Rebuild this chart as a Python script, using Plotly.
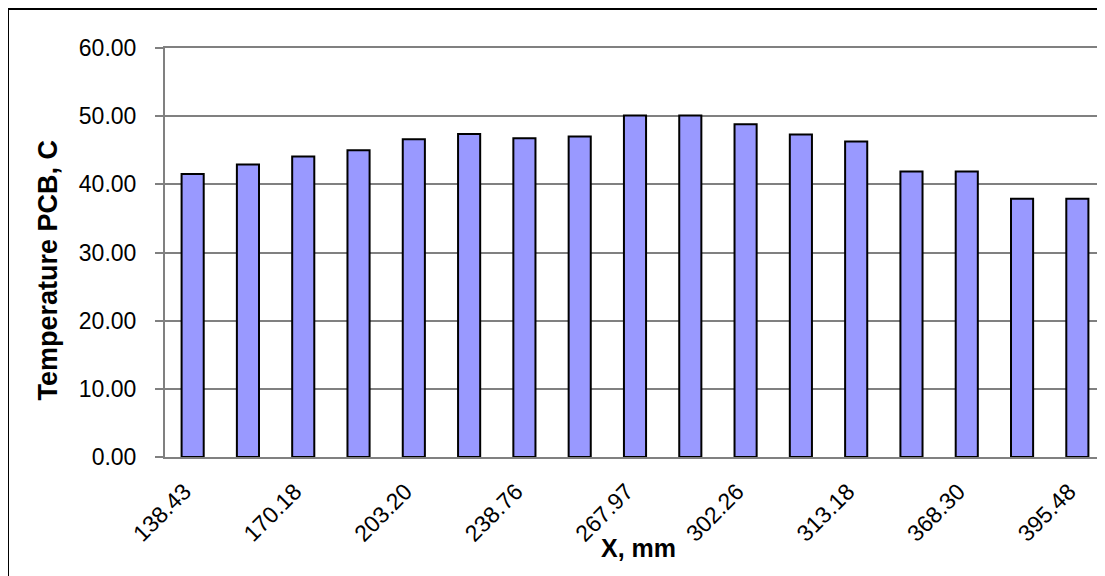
import plotly.graph_objects as go

tick_labels = ["138.43", "170.18", "203.20", "238.76", "267.97", "302.26", "313.18", "368.30", "395.48"]
temperatures = [41.5, 42.9, 44.1, 45.0, 46.6, 47.4, 46.75, 47.0, 50.1, 50.1, 48.8, 47.3, 46.3, 41.9, 41.9, 37.9, 37.9]

positions = list(range(len(temperatures)))
# label every second category; nudge labels so the rotated text ends at the bar centre
tick_positions = [p - 0.15 for p in positions[::2]]

fig = go.Figure()
fig.add_trace(go.Bar(
    x=positions, y=temperatures,
    marker=dict(color="#9999FF", line=dict(color="#000000", width=2)),
    width=0.4,
))

fig.update_layout(
    width=1105, height=576,
    margin=dict(l=157, r=8, t=40, b=127),
    paper_bgcolor="white", plot_bgcolor="white",
    showlegend=False,
    font=dict(family="Liberation Sans, Arial, sans-serif", color="#000000"),
    xaxis=dict(
        tickmode="array", tickvals=tick_positions, ticktext=tick_labels,
        tickangle=-45, tickfont=dict(size=23),
        range=[-0.5, len(temperatures) - 0.5],
        showline=True, linecolor="#808080", linewidth=2, mirror=True,
        showgrid=False, ticks="", zeroline=False, automargin=False,
        ticklabelstandoff=10,
    ),
    yaxis=dict(
        range=[0, 60], dtick=10, tickformat=".2f",
        tickfont=dict(size=23),
        showgrid=True, gridcolor="#808080", gridwidth=1.5,
        showline=True, linecolor="#808080", linewidth=2, mirror=True,
        ticks="outside", ticklen=8, tickcolor="#808080", tickwidth=1.5,
        zeroline=False, automargin=False, ticklabelstandoff=14,
    ),
    annotations=[
        dict(text="<b>X, mm</b>", xref="paper", yref="paper", x=0.504, y=-0.222,
             showarrow=False, font=dict(size=25), xanchor="center", yanchor="middle"),
        dict(text="<b>Temperature PCB, C</b>", xref="paper", yref="paper", x=-0.124, y=0.457,
             showarrow=False, font=dict(size=27), textangle=-90, xanchor="center", yanchor="middle"),
    ],
    shapes=[
        dict(type="rect", xref="paper", yref="paper", x0=-157/940, x1=1 + 7/940, y0=-126/409, y1=1 + 39/409,
             line=dict(color="#000000", width=2), fillcolor="rgba(0,0,0,0)", layer="below"),
    ],
)

fig.write_html("out.html")
